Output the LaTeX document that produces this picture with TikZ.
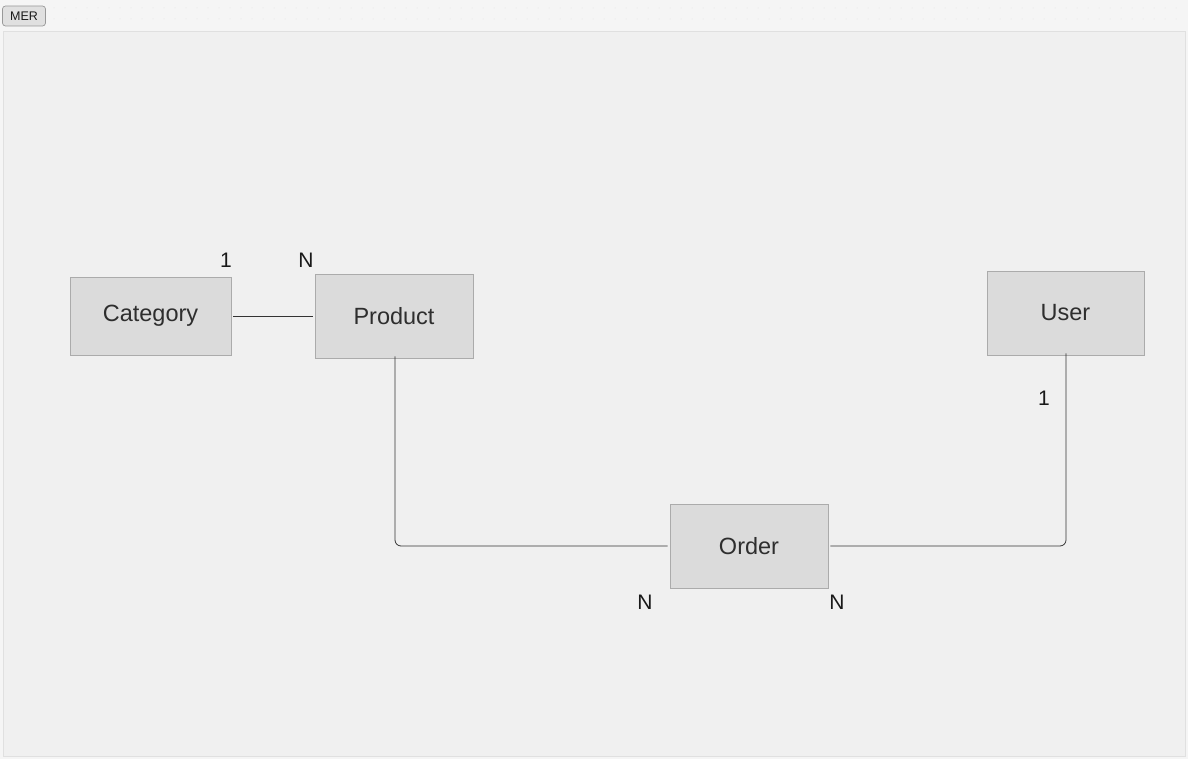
\documentclass[tikz,border=0pt]{standalone}
\usepackage{fontspec}
\setmainfont{Liberation Sans}
\begin{document}
\begin{tikzpicture}[x=1pt,y=-1pt,
  entity/.style={draw=black!33, fill=black!14, line width=0.9pt, inner sep=0pt, font=\fontsize{23.5}{26}\selectfont\color{black!82}},
  conn/.style={draw=black!80, line width=0.8pt, rounded corners=6pt},
  card/.style={font=\fontsize{21}{24}\selectfont\color{black!90}, inner sep=0pt}]
\useasboundingbox (0,0) rectangle (1188,759);
\fill[black!4] (0,0) rectangle (1188,759);
% dotted strip
\foreach \yy in {8,19} {
  \foreach \xx in {54,65,...,1180} {
    \fill[black!12] (\xx,\yy) circle (0.5pt);
  }
}
% main panel
\draw[draw=black!12, fill=black!6, line width=0.8pt] (3,31) rectangle (1185,756);
% MER tag
\node[draw=black!40, fill=black!12, rounded corners=3pt, line width=0.7pt, minimum width=43pt, minimum height=20pt, inner sep=0pt, font=\fontsize{12.5}{14}\selectfont\color{black!90}] (mer) at (24,16) {MER};
% entities
\node[entity, minimum width=161pt, minimum height=78pt] (category) at (150.5,316) {Category};
\node[entity, minimum width=158pt, minimum height=84pt] (product) at (394,316) {Product};
\node[entity, minimum width=157pt, minimum height=84pt] (user) at (1065.5,313) {User};
\node[entity, minimum width=158pt, minimum height=84pt] (order) at (749,546) {Order};
% connectors
\coordinate (c1) at (395,546);
\coordinate (c2) at (1066,546);
\draw[conn] ([xshift=2pt]category.east) -- ([xshift=-2pt]product.west);
\draw[conn] ([xshift=1pt,yshift=2pt]product.south) -- (c1) -- ([xshift=-2pt]order.west);
\draw[conn] ([xshift=2pt]order.east) -- (c2) -- ([yshift=2pt]user.south -| c2);
% cardinalities
\node[card] (l1) at (226,260) {1};
\node[card] (l2) at (306,260) {N};
\node[card] (l3) at (1044,398) {1};
\node[card] (l4) at (645,602) {N};
\node[card] (l5) at (837,602) {N};
\end{tikzpicture}
\end{document}
